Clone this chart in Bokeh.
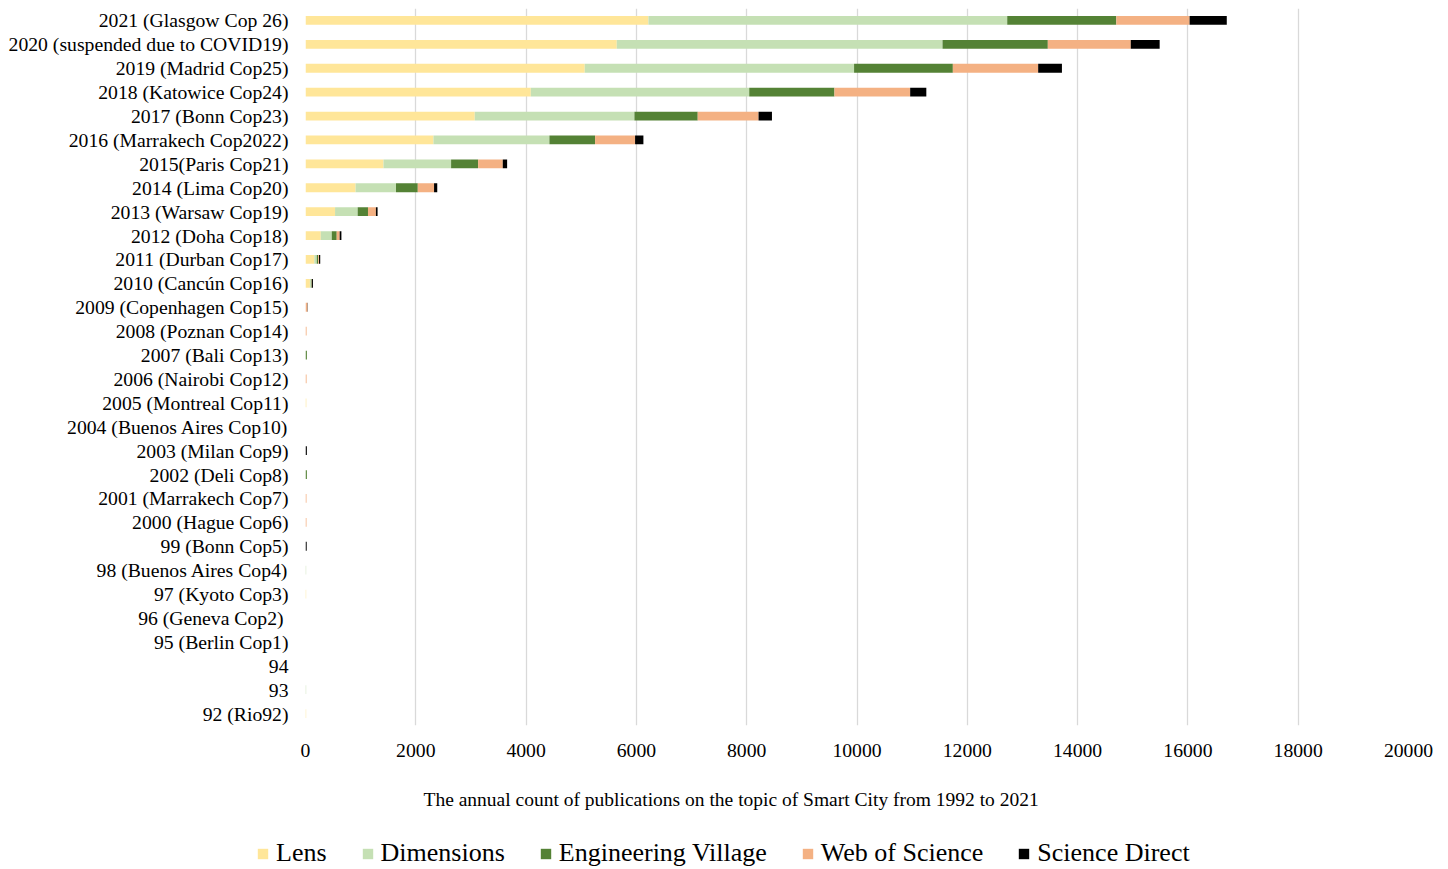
from bokeh.plotting import figure
from bokeh.layouts import column
from bokeh.models import (FactorRange, Range1d, Legend, LegendItem, Title,
                          SingleIntervalTicker, ColumnDataSource)
from bokeh.embed import file_html
from bokeh.resources import INLINE

# Categories, top to bottom as in the reference
labels = [
    "2021 (Glasgow Cop 26)", "2020 (suspended due to COVID19)", "2019 (Madrid Cop25)",
    "2018 (Katowice Cop24)", "2017 (Bonn Cop23)", "2016 (Marrakech Cop2022)",
    "2015(Paris Cop21)", "2014 (Lima Cop20)", "2013 (Warsaw Cop19)", "2012 (Doha Cop18)",
    "2011 (Durban Cop17)", "2010 (Cancún Cop16)", "2009 (Copenhagen Cop15)",
    "2008 (Poznan Cop14)", "2007 (Bali Cop13)", "2006 (Nairobi Cop12)",
    "2005 (Montreal Cop11)", "2004 (Buenos Aires Cop10)", "2003 (Milan Cop9)",
    "2002 (Deli Cop8)", "2001 (Marrakech Cop7)", "2000 (Hague Cop6)", "99 (Bonn Cop5)",
    "98 (Buenos Aires Cop4)", "97 (Kyoto Cop3)", "96  (Geneva Cop2)", "95 (Berlin Cop1)",
    "94", "93", "92 (Rio92)",
]

lens = [6218, 5644, 5063, 4085, 3069, 2320, 1414, 908, 536, 277, 160, 80, 0, 0, 0, 0, 15, 0, 0, 0, 0, 0, 0, 0, 12, 0, 0, 0, 0, 12]
dimensions = [6506, 5907, 4884, 3961, 2895, 2103, 1226, 733, 410, 199, 45, 22, 0, 0, 0, 0, 0, 0, 0, 0, 0, 0, 0, 12, 0, 0, 0, 0, 12, 0]
engineering_village = [1978, 1909, 1791, 1545, 1148, 828, 490, 395, 187, 90, 25, 8, 0, 0, 25, 0, 0, 0, 0, 25, 0, 0, 0, 0, 0, 0, 0, 0, 0, 0]
web_of_science = [1329, 1504, 1547, 1373, 1103, 725, 447, 295, 144, 54, 15, 5, 35, 20, 0, 20, 0, 0, 0, 0, 18, 18, 0, 0, 0, 0, 0, 0, 0, 0]
science_direct = [674, 524, 431, 293, 243, 151, 79, 58, 30, 31, 22, 20, 5, 0, 0, 0, 0, 0, 25, 0, 0, 0, 22, 0, 0, 0, 0, 0, 0, 0]

series_names = ["Lens", "Dimensions", "Engineering Village", "Web of Science", "Science Direct"]
colors = ["#FFE699", "#C5E0B4", "#548235", "#F4B183", "#000000"]

data = {"y": labels, "Lens": lens, "Dimensions": dimensions,
        "Engineering Village": engineering_village, "Web of Science": web_of_science,
        "Science Direct": science_direct}

FONT = "Liberation Serif"

chart = figure(width=1448, height=836, output_backend="svg", toolbar_location=None,
               y_range=FactorRange(factors=labels[::-1], range_padding=0),
               x_range=Range1d(0, 20000),
               min_border_left=305, min_border_right=40, min_border_top=8, min_border_bottom=110)
chart.frame_align = False
chart.outline_line_color = None
chart.background_fill_color = "white"
chart.border_fill_color = "white"

renderers = chart.hbar_stack(series_names, y="y", height=0.37, color=colors, source=data, line_width=0)

chart.ygrid.grid_line_color = None
chart.xgrid.grid_line_color = "#d9d9d9"
chart.xgrid.grid_line_width = 1.3
chart.xaxis.ticker = SingleIntervalTicker(interval=2000)

for ax in (chart.xaxis[0], chart.yaxis[0]):
    ax.axis_line_color = None
    ax.major_tick_line_color = None
    ax.minor_tick_line_color = None
    ax.major_label_text_font = FONT
    ax.major_label_text_font_size = "19.7px"
    ax.major_label_text_color = "#000000"

chart.yaxis.major_label_standoff = 11
chart.xaxis.major_label_standoff = 12

title = Title(text="The annual count of publications on the topic of Smart City from 1992 to 2021",
              align="left", offset=118, text_font=FONT, text_font_size="19.5px",
              text_font_style="normal", text_color="#000000", standoff=54)
chart.add_layout(title, "below")

# Legend strip below the chart (its own small figure so that it is not clipped)
leg_fig = figure(width=1448, height=33, output_backend="svg", toolbar_location=None,
                 x_range=Range1d(0, 1), y_range=Range1d(0, 1),
                 min_border_left=0, min_border_right=0, min_border_top=0, min_border_bottom=0)
leg_fig.frame_align = False
leg_fig.axis.visible = False
leg_fig.grid.visible = False
leg_fig.outline_line_color = None
leg_fig.border_fill_color = "white"
# legend-key glyphs only: zero-size and outside the visible range of this strip
offscreen = ColumnDataSource(data=dict(y=[-5.0], left=[-3.0], right=[-3.0]))
leg_renderers = [leg_fig.hbar(y="y", left="left", right="right", height=0.0, color=c,
                              line_width=0, line_alpha=0, source=offscreen)
                 for c in colors]
items = [LegendItem(label=n, renderers=[r]) for n, r in zip(series_names, leg_renderers)]
legend = Legend(items=items, orientation="horizontal", location=(256, 1),
                label_text_font=FONT, label_text_font_size="26px", label_text_color="#000000",
                glyph_width=13, glyph_height=13, label_standoff=7, spacing=34,
                padding=0, margin=0, border_line_color=None, background_fill_alpha=0)
leg_fig.add_layout(legend, "center")

p = column(chart, leg_fig, spacing=0)

open("out.html", "w").write(file_html(p, INLINE))
